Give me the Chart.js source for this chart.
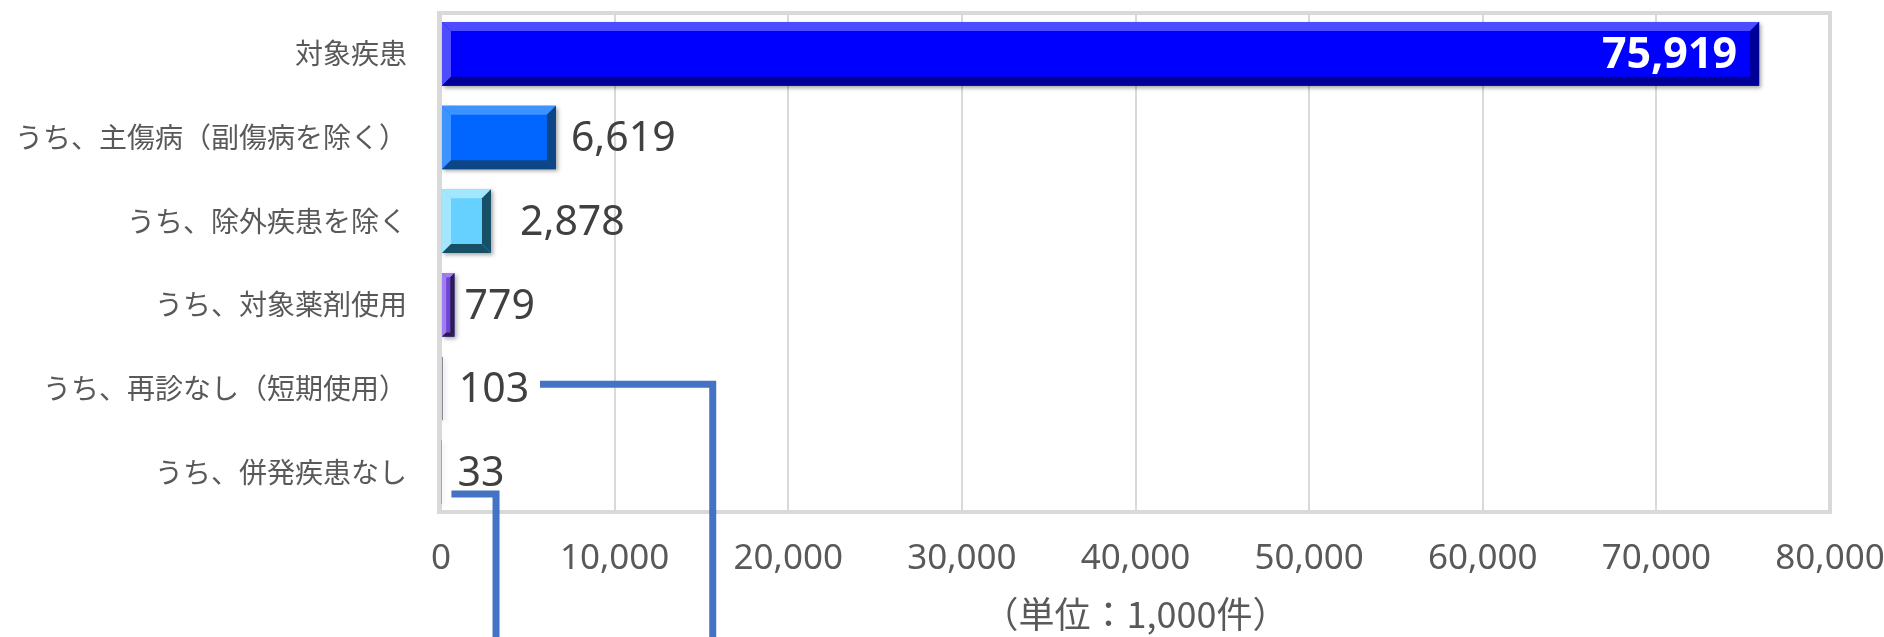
<!DOCTYPE html>
<html lang="ja">
<head>
<meta charset="UTF-8">
<title>対象疾患の件数</title>
<script src="https://cdn.jsdelivr.net/npm/chart.js@4"></script>
<style>
  html, body { margin: 0; padding: 0; background: #ffffff; }
  #contenitore { width: 1884px; height: 637px; position: relative; }
</style>
</head>
<body>
<div id="contenitore"><canvas id="chartCasi"></canvas></div>
<script>
// ================= DATI =================

const categorie = [
    "対象疾患",
    "うち、主傷病（副傷病を除く）",
    "うち、除外疾患を除く",
    "うち、対象薬剤使用",
    "うち、再診なし（短期使用）",
    "うち、併発疾患なし"
];

const valori = [75919, 6619, 2878, 779, 103, 33];

const asseMin = 0;
const asseMax = 80000;
const asseStep = 10000;

const unita = "（単位：1,000件）";

// ================= STILI =================

const coloriBase = ["#0000ff", "#0066ff", "#66d1ff", "#6e45d6", "#6a6a80", "#6a6a80"];
const coloriLuce = ["#4d4dff", "#3d93ff", "#a3e7ff", "#a27cf3", "#9a9aa8", "#9a9aa8"];
const coloriOmbra = ["#000096", "#0c4687", "#174f66", "#281d4b", "#4f4f63", "#4f4f63"];

// distanza del numero dalla fine della barra
const distanzaEtichetta = [22, 15, 29, 10, 16, 16];

const formato = v => Number(v).toLocaleString("en-US");

// ================= PLUGIN =================

// cornice grigia attorno all'area del grafico
const cornice = {
    id: "cornice",
    beforeDatasetsDraw(chart) {
        const { ctx, chartArea: a } = chart;
        ctx.save();
        ctx.strokeStyle = "#d9d9d9";
        ctx.lineWidth = 4;
        ctx.strokeRect(a.left - 2, a.top + 1, a.right - a.left + 2, a.bottom - a.top - 3);
        ctx.restore();
    }
};

// ombra leggera sotto le barre
const ombra = {
    id: "ombra",
    beforeDatasetDraw(chart) {
        const ctx = chart.ctx;
        ctx.save();
        ctx.shadowColor = "rgba(0,0,0,0.35)";
        ctx.shadowBlur = 4;
        ctx.shadowOffsetX = 2;
        ctx.shadowOffsetY = 2;
    },
    afterDatasetDraw(chart) {
        chart.ctx.restore();
    }
};

// effetto smussato sui bordi delle barre
const smussatura = {
    id: "smussatura",
    afterDatasetsDraw(chart) {
        const ctx = chart.ctx;
        chart.getDatasetMeta(0).data.forEach((bar, i) => {
            const p = bar.getProps(["x", "y", "base", "height"], true);
            const x0 = Math.min(p.base, p.x);
            const x1 = Math.max(p.base, p.x);
            const y0 = p.y - p.height / 2;
            const y1 = p.y + p.height / 2;
            const w = x1 - x0;
            if (w < 3) return;
            const b = Math.min(9, w / 3, p.height / 4);

            const poligono = (punti, colore) => {
                ctx.beginPath();
                ctx.moveTo(punti[0][0], punti[0][1]);
                punti.slice(1).forEach(q => ctx.lineTo(q[0], q[1]));
                ctx.closePath();
                ctx.fillStyle = colore;
                ctx.fill();
            };

            ctx.save();
            poligono([[x0, y0], [x1, y0], [x1 - b, y0 + b], [x0 + b, y0 + b]], coloriLuce[i]);
            poligono([[x0, y0], [x0 + b, y0 + b], [x0 + b, y1 - b], [x0, y1]], coloriLuce[i]);
            poligono([[x0, y1], [x1, y1], [x1 - b, y1 - b], [x0 + b, y1 - b]], coloriOmbra[i]);
            poligono([[x1, y0], [x1, y1], [x1 - b, y1 - b], [x1 - b, y0 + b]], coloriOmbra[i]);
            ctx.restore();
        });
    }
};

// numeri accanto alle barre
const etichette = {
    id: "etichette",
    afterDatasetsDraw(chart) {
        const ctx = chart.ctx;
        ctx.save();
        ctx.textBaseline = "middle";
        chart.getDatasetMeta(0).data.forEach((bar, i) => {
            const testo = formato(valori[i]);
            if (valori[i] > asseMax / 2) {
                ctx.font = "bold 43px 'Noto Sans'";
                ctx.fillStyle = "#ffffff";
                ctx.textAlign = "right";
                ctx.fillText(testo, bar.x - distanzaEtichetta[i], bar.y + 2);
            } else {
                ctx.font = "41px 'Noto Sans'";
                ctx.fillStyle = "#404040";
                ctx.textAlign = "left";
                ctx.fillText(testo, bar.x + distanzaEtichetta[i], bar.y + 2);
            }
        });
        ctx.restore();
    }
};

// linee di richiamo blu verso il basso
const richiami = {
    id: "richiami",
    afterDraw(chart) {
        const { ctx, scales } = chart;
        const linee = [
            { riga: 3.95, da: 5700, a: 15650 },
            { riga: 5.26, da: 600, a: 3170 }
        ];
        ctx.save();
        ctx.strokeStyle = "#4472c4";
        ctx.lineWidth = 7;
        ctx.lineJoin = "miter";
        ctx.lineCap = "butt";
        linee.forEach(l => {
            const y = scales.y.getPixelForValue(l.riga);
            const xa = scales.x.getPixelForValue(l.da);
            const xb = scales.x.getPixelForValue(l.a);
            ctx.beginPath();
            ctx.moveTo(xa, y);
            ctx.lineTo(xb, y);
            ctx.lineTo(xb, chart.height + 5);
            ctx.stroke();
        });
        ctx.restore();
    }
};

// ================= GRAFICO =================

const ctxCasi = document.getElementById("chartCasi").getContext("2d");

const chartCasi = new Chart(ctxCasi, {

    type: "bar",

    data: {
        labels: categorie,
        datasets: [{
            data: valori,
            backgroundColor: coloriBase,
            borderWidth: 0,
            barPercentage: 0.76,
            categoryPercentage: 1
        }]
    },

    options: {
        indexAxis: "y",
        responsive: true,
        maintainAspectRatio: false,
        animation: false,
        layout: {
            padding: { top: 12, right: 54, bottom: 0, left: 0 }
        },
        plugins: {
            legend: { display: false },
            tooltip: { enabled: false }
        },
        scales: {
            x: {
                min: asseMin,
                max: asseMax,
                ticks: {
                    stepSize: asseStep,
                    color: "#595959",
                    font: { family: "'Noto Sans'", size: 35 },
                    padding: 24,
                    maxRotation: 0,
                    autoSkip: false,
                    callback: v => formato(v)
                },
                grid: { color: "#d9d9d9", lineWidth: 2, drawTicks: false },
                border: { display: false },
                title: {
                    display: true,
                    text: unita,
                    color: "#595959",
                    font: { family: "'Noto Sans CJK JP'", size: 36 },
                    padding: { top: 0, bottom: 1 }
                },
                afterFit: s => {
                    s.height = 123;
                    s.paddingLeft = 0;
                    s.paddingRight = 0;
                }
            },
            y: {
                ticks: {
                    color: "#595959",
                    font: { family: "'Noto Sans CJK JP'", size: 28 },
                    padding: 34
                },
                grid: { display: false, drawTicks: false },
                border: { display: false },
                afterFit: s => {
                    s.width = 441;
                    s.paddingTop = 0;
                    s.paddingBottom = 0;
                }
            }
        }
    },

    plugins: [cornice, ombra, smussatura, etichette, richiami]

});
</script>
</body>
</html>
